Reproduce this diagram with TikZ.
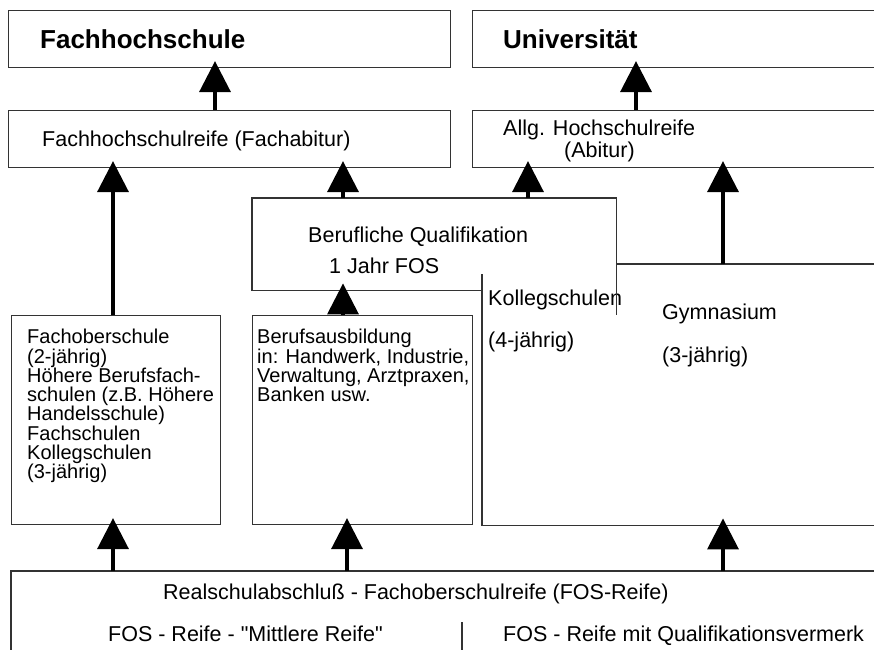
\documentclass[tikz,border=0pt]{standalone}
\usepackage{fontspec}
\setmainfont{Liberation Sans}[Ligatures=TeXOff]
\usetikzlibrary{arrows.meta}
\begin{document}
\begin{tikzpicture}[x=1pt,y=-1pt,
  box/.style={draw=black!80, line width=1.1pt, fill=white, inner sep=0pt, anchor=north west},
  area/.style={draw=none, inner sep=0pt, anchor=north west},
  ln/.style={draw=black!80, line width=1.1pt},
  arr/.style={line width=3.5pt, -{Triangle[length=31pt,width=31pt]}, shorten >=-7pt},
  lbl/.style={inner sep=0pt, anchor=base west, font=\fontsize{21.5}{23}\selectfont},
  big/.style={inner sep=0pt, anchor=base west, font=\bfseries\fontsize{26}{29}\selectfont},
  txt/.style={inner sep=0pt, anchor=north west, align=left, font=\fontsize{20}{19.3}\selectfont}]
\useasboundingbox (0,0) rectangle (874,649);

% top row
\node[box, minimum width=442pt, minimum height=57pt] (fh) at (8,10) {};
\node[box, minimum width=410pt, minimum height=57pt] (uni) at (472,10) {};
\node[big] (fht) at (40,48) {Fachhochschule};
\node[big] (unit) at (503,48) {Universität};

% second row
\node[box, minimum width=442pt, minimum height=57pt] (fhr) at (8,110) {};
\node[box, minimum width=410pt, minimum height=57pt] (allg) at (472,110) {};
\node[lbl] (fhrt) at (42,146) {Fachhochschulreife (Fachabitur)};
\node[lbl] (allgt1) at (503,135) {Allg. Hochschulreife};
\node[lbl] (allgt2) at (564,157) {(Abitur)};

% middle areas
\node[area, minimum width=398pt, minimum height=251pt] (kol) at (482,274) {};
\node[area, minimum width=364pt, minimum height=92pt] (ber) at (252,198) {};
\coordinate (gymtl) at (616,264);
\coordinate (gymtop) at (723,264);
\coordinate (gymr) at (880,264);

\draw[ln] (kol.north west) -- (kol.south west) -- (kol.south east);
\draw[ln] (gymtl) -- (gymr);

\node[lbl] (kolt1) at (488,305) {Kollegschulen};
\node[lbl] (kolt2) at (488,347) {(4-jährig)};
\node[lbl] (gymt1) at (662,319) {Gymnasium};
\node[lbl] (gymt2) at (662,362) {(3-jährig)};

\node[lbl] (bert1) at (308,242) {Berufliche Qualifikation};
\node[lbl] (bert2) at (329,273) {1 Jahr FOS};

% lower boxes
\node[box, minimum width=209pt, minimum height=209pt] (fos) at (11,315) {};
\node[box, minimum width=220pt, minimum height=209pt] (bab) at (252,315) {};
\node[txt] (fost) at (27,329) {Fachoberschule\\(2-jährig)\\Höhere Berufsfach-\\schulen (z.B. Höhere\\Handelsschule)\\Fachschulen\\Kollegschulen\\(3-jährig)};
\node[txt] (babt) at (257,329) {Berufsausbildung\\in: Handwerk, Industrie,\\Verwaltung, Arztpraxen,\\Banken usw.};

\draw[ln] (ber.south -| kol.west) -- (ber.south west) -- (ber.north west) -- (ber.north east) -- (ber.east |- bab.north);

% bottom box
\node[area, minimum width=870pt, minimum height=90pt] (rs) at (11,571) {};
\draw[ln] (rs.south west) -- (rs.north west) -- (rs.north east);
\coordinate (divtop) at (462,622);
\draw[ln] (divtop) -- (divtop |- rs.south);
\node[lbl] (rst1) at (163,599) {Realschulabschluß - Fachoberschulreife (FOS-Reife)};
\node[lbl] (rst2) at (108,641) {FOS - Reife - "Mittlere Reife"};
\node[lbl] (rst3) at (503,641) {FOS - Reife mit Qualifikationsvermerk};

% arrows
\draw[arr] (215,0 |- fhr.north) -- (215,0 |- fh.south);
\draw[arr] (636,0 |- allg.north) -- (636,0 |- uni.south);
\draw[arr] (113,0 |- fos.north) -- (113,0 |- fhr.south);
\draw[arr] (343,0 |- ber.north) -- (343,0 |- fhr.south);
\draw[arr] (528,0 |- ber.north) -- (528,0 |- allg.south);
\draw[arr] (gymtop) -- (gymtop |- allg.south);
\draw[arr] (343,0 |- bab.north) -- (343,0 |- ber.south);
\draw[arr] (113,0 |- rs.north) -- (113,0 |- fos.south);
\draw[arr] (347,0 |- rs.north) -- (347,0 |- bab.south);
\draw[arr] (723,0 |- rs.north) -- (723,0 |- kol.south);
\end{tikzpicture}
\end{document}
